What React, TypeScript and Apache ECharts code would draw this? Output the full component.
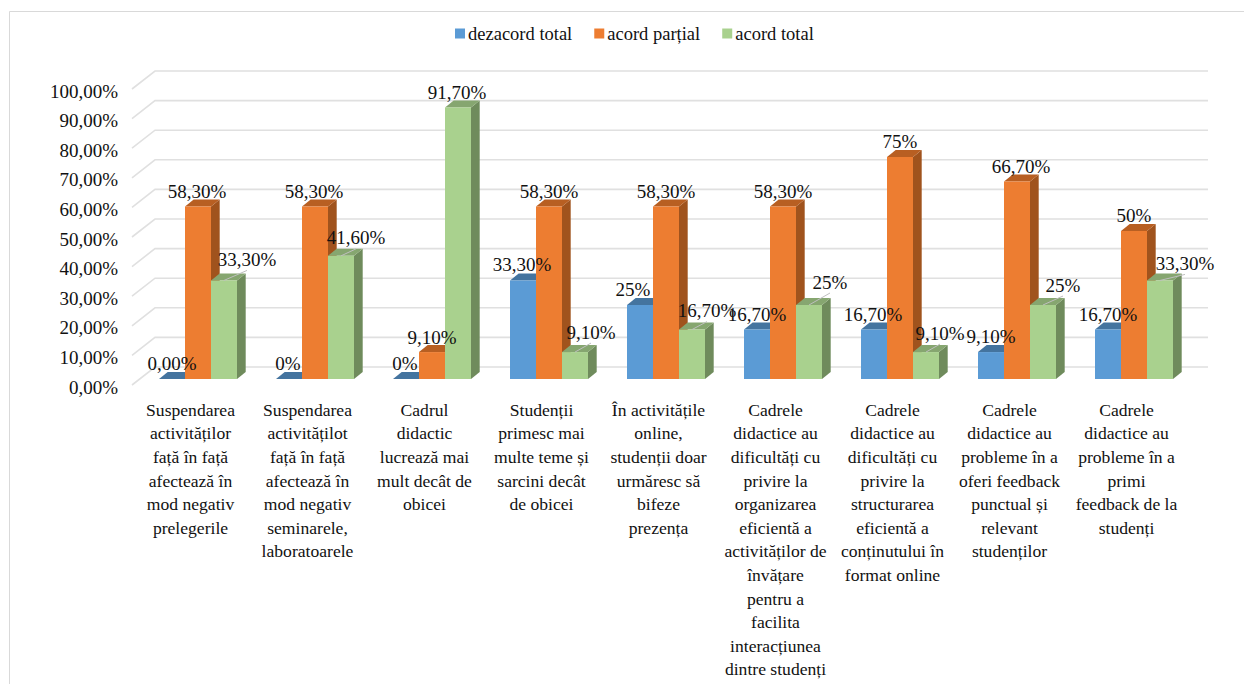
import React, { useEffect, useRef } from "react";
import * as echarts from "echarts";

const categories = [
  "Suspendarea\nactivităților\nfață în față\nafectează în\nmod negativ\nprelegerile",
  "Suspendarea\nactivitățilot\nfață în față\nafectează în\nmod negativ\nseminarele,\nlaboratoarele",
  "Cadrul\ndidactic\nlucrează mai\nmult decât de\nobicei",
  "Studenții\nprimesc mai\nmulte teme și\nsarcini decât\nde obicei",
  "În activitățile\nonline,\nstudenții doar\nurmăresc să\nbifeze\nprezența",
  "Cadrele\ndidactice au\ndificultăți cu\nprivire la\norganizarea\neficientă a\nactivităților de\nînvățare\npentru a\nfacilita\ninteracțiunea\ndintre studenți",
  "Cadrele\ndidactice au\ndificultăți cu\nprivire la\nstructurarea\neficientă a\nconținutului în\nformat online",
  "Cadrele\ndidactice au\nprobleme în a\noferi feedback\npunctual și\nrelevant\nstudenților",
  "Cadrele\ndidactice au\nprobleme în a\nprimi\nfeedback de la\nstudenți",
];

const seriesNames = ["dezacord total", "acord parțial", "acord total"];
const dezacordTotal = [0, 0, 0, 33.3, 25, 16.7, 16.7, 9.1, 16.7];
const acordPartial = [58.3, 58.3, 9.1, 58.3, 58.3, 58.3, 75, 66.7, 50];
const acordTotal = [33.3, 41.6, 91.7, 9.1, 16.7, 25, 9.1, 25, 33.3];

const dezacordLabels = ["0,00%", "0%", "0%", "33,30%", "25%", "16,70%", "16,70%", "9,10%", "16,70%"];
const partialLabels = ["58,30%", "58,30%", "9,10%", "58,30%", "58,30%", "58,30%", "75%", "66,70%", "50%"];
const totalLabels = ["33,30%", "41,60%", "91,70%", "9,10%", "16,70%", "25%", "9,10%", "25%", "33,30%"];

const yTicks = [0, 10, 20, 30, 40, 50, 60, 70, 80, 90, 100];

// Manual data-label placement from the reference (layout only, in pixels).
const nudgeX = [
  [0, -1, -1, -1, -7, 0, -1, 0, 0],
  [-1, -1, 0, 0, 0, 0, 0, 4, 0],
  [23, 15, -1, 16, 15, 21, 14, 20, 25],
];
const nudgeY = [
  [-15.5, -15.5, -15.5, -15.5, -15.5, -15.5, -15.5, -15.5, -15.5],
  [-15, -15, -15, -15, -15, -15, -16, -15, -16],
  [-21, -18, -15, -20, -19, -23, -19, -20, -17],
];

const FONT = "'Liberation Serif', 'Times New Roman', serif";
const TEXT = "#111111";
const GRID_LINE = "#E0E0E0";
const faces = [
  { front: "#5B9BD5", top: "#44749F", side: "#3F6D96" },
  { front: "#ED7D31", top: "#B85F22", side: "#A0531D" },
  { front: "#A9D18E", top: "#86A670", side: "#6F8B5C" },
];

const BAR_W = 26;
const PLANE_DX = 7.5;
const PLANE_DY = -6;
const DEPTH_X = 8.7;
const DEPTH_Y = 7;
const WALL_DX = 23;
const WALL_DY = -18;

function barSeries(k: number, values: number[], labels: string[]) {
  return {
    name: seriesNames[k],
    type: "custom",
    itemStyle: { color: faces[k].front },
    data: values.map((v, i) => [i, v]),
    encode: { x: 0, y: 1 },
    silent: true,
    renderItem: (_p: any, api: any) => {
      const i = api.value(0);
      const top = api.coord([i, api.value(1)]);
      const base = api.coord([i, 0]);
      const x = top[0] + PLANE_DX + (k - 1) * BAR_W - BAR_W / 2;
      const yT = top[1] + PLANE_DY;
      const yB = base[1] + PLANE_DY;
      const cx = x + BAR_W / 2;
      const lx = cx + nudgeX[k][i];
      const ly = yT + nudgeY[k][i];
      const children: any[] = [
        {
          type: "polygon",
          shape: { points: [[x + BAR_W, yT], [x + BAR_W + DEPTH_X, yT - DEPTH_Y], [x + BAR_W + DEPTH_X, yB - DEPTH_Y], [x + BAR_W, yB]] },
          style: { fill: faces[k].side },
        },
        {
          type: "polygon",
          shape: { points: [[x, yT], [x + BAR_W, yT], [x + BAR_W + DEPTH_X, yT - DEPTH_Y], [x + DEPTH_X, yT - DEPTH_Y]] },
          style: { fill: faces[k].top },
        },
        { type: "rect", shape: { x, y: yT, width: BAR_W, height: yB - yT }, style: { fill: faces[k].front } },
      ];
      if (nudgeX[k][i] >= 10) {
        children.push({
          type: "line",
          z2: 50,
          shape: { x1: cx, y1: yT, x2: lx, y2: ly + 11 },
          style: { stroke: "#BFBFBF", lineWidth: 1 },
        });
      }
      children.push({
        type: "text",
        z2: 100,
        style: {
          x: lx,
          y: ly,
          text: labels[i],
          fontFamily: FONT,
          fontSize: 19,
          fill: TEXT,
          align: "center",
          verticalAlign: "middle",
          textAlign: "center",
          textVerticalAlign: "middle",
        },
      });
      return { type: "group", children };
    },
  };
}

export default function App() {
  const ref = useRef<HTMLDivElement>(null);

  useEffect(() => {
    document.body.style.margin = "0";
    const chart = echarts.init(ref.current!, undefined, { renderer: "svg" });
    chart.setOption({
      animation: false,
      backgroundColor: "#FFFFFF",
      textStyle: { fontFamily: FONT },
      graphic: [
        {
          type: "polyline",
          silent: true,
          shape: { points: [[9.5, 684], [9.5, 11.5], [1244, 11.5]] },
          style: { stroke: "#D9D9D9", fill: "none", lineWidth: 1 },
        },
      ],
      legend: {
        data: seriesNames,
        left: 450,
        top: 19,
        icon: "rect",
        itemWidth: 10,
        itemHeight: 10,
        itemGap: 22,
        textStyle: { fontFamily: FONT, fontSize: 18.5, color: TEXT, padding: [0, 0, 0, -2] },
      },
      grid: { left: 132, top: 89, width: 1053, height: 296, containLabel: false },
      xAxis: {
        type: "category",
        data: categories,
        axisLine: { show: false },
        axisTick: { show: false },
        splitLine: { show: false },
        axisLabel: {
          interval: 0,
          margin: 13,
          fontFamily: FONT,
          fontSize: 17.6,
          lineHeight: 23.6,
          color: TEXT,
          hideOverlap: false,
        },
      },
      yAxis: {
        type: "value",
        min: 0,
        max: 100,
        interval: 10,
        axisLine: { show: false },
        axisTick: { show: false },
        splitLine: { show: false },
        axisLabel: {
          margin: 14,
          fontFamily: FONT,
          fontSize: 19,
          color: TEXT,
          rich: {
            t: { fontFamily: FONT, fontSize: 19, color: TEXT, padding: [4, 0, 0, 0] },
          },
          formatter: (v: number) => "{t|" + v.toFixed(2).replace(".", ",") + "%}",
        },
      },
      series: [
        {
          name: "grid",
          type: "custom",
          silent: true,
          data: yTicks.map((t) => [0, t]),
          encode: { x: 0, y: 1 },
          renderItem: (p: any, api: any) => {
            const y = api.coord([0, api.value(1)])[1];
            const x0 = p.coordSys.x;
            const x1 = x0 + p.coordSys.width;
            return {
              type: "polyline",
              shape: { points: [[x0, y], [x0 + WALL_DX, y + WALL_DY], [x1 + WALL_DX, y + WALL_DY]] },
              style: { stroke: GRID_LINE, fill: "none", lineWidth: 1.6 },
            };
          },
        },
        barSeries(0, dezacordTotal, dezacordLabels),
        barSeries(1, acordPartial, partialLabels),
        barSeries(2, acordTotal, totalLabels),
      ],
    });
    return () => chart.dispose();
  }, []);

  return <div ref={ref} style={{ position: "fixed", left: 0, top: 0, width: 1244, height: 684 }} />;
}
